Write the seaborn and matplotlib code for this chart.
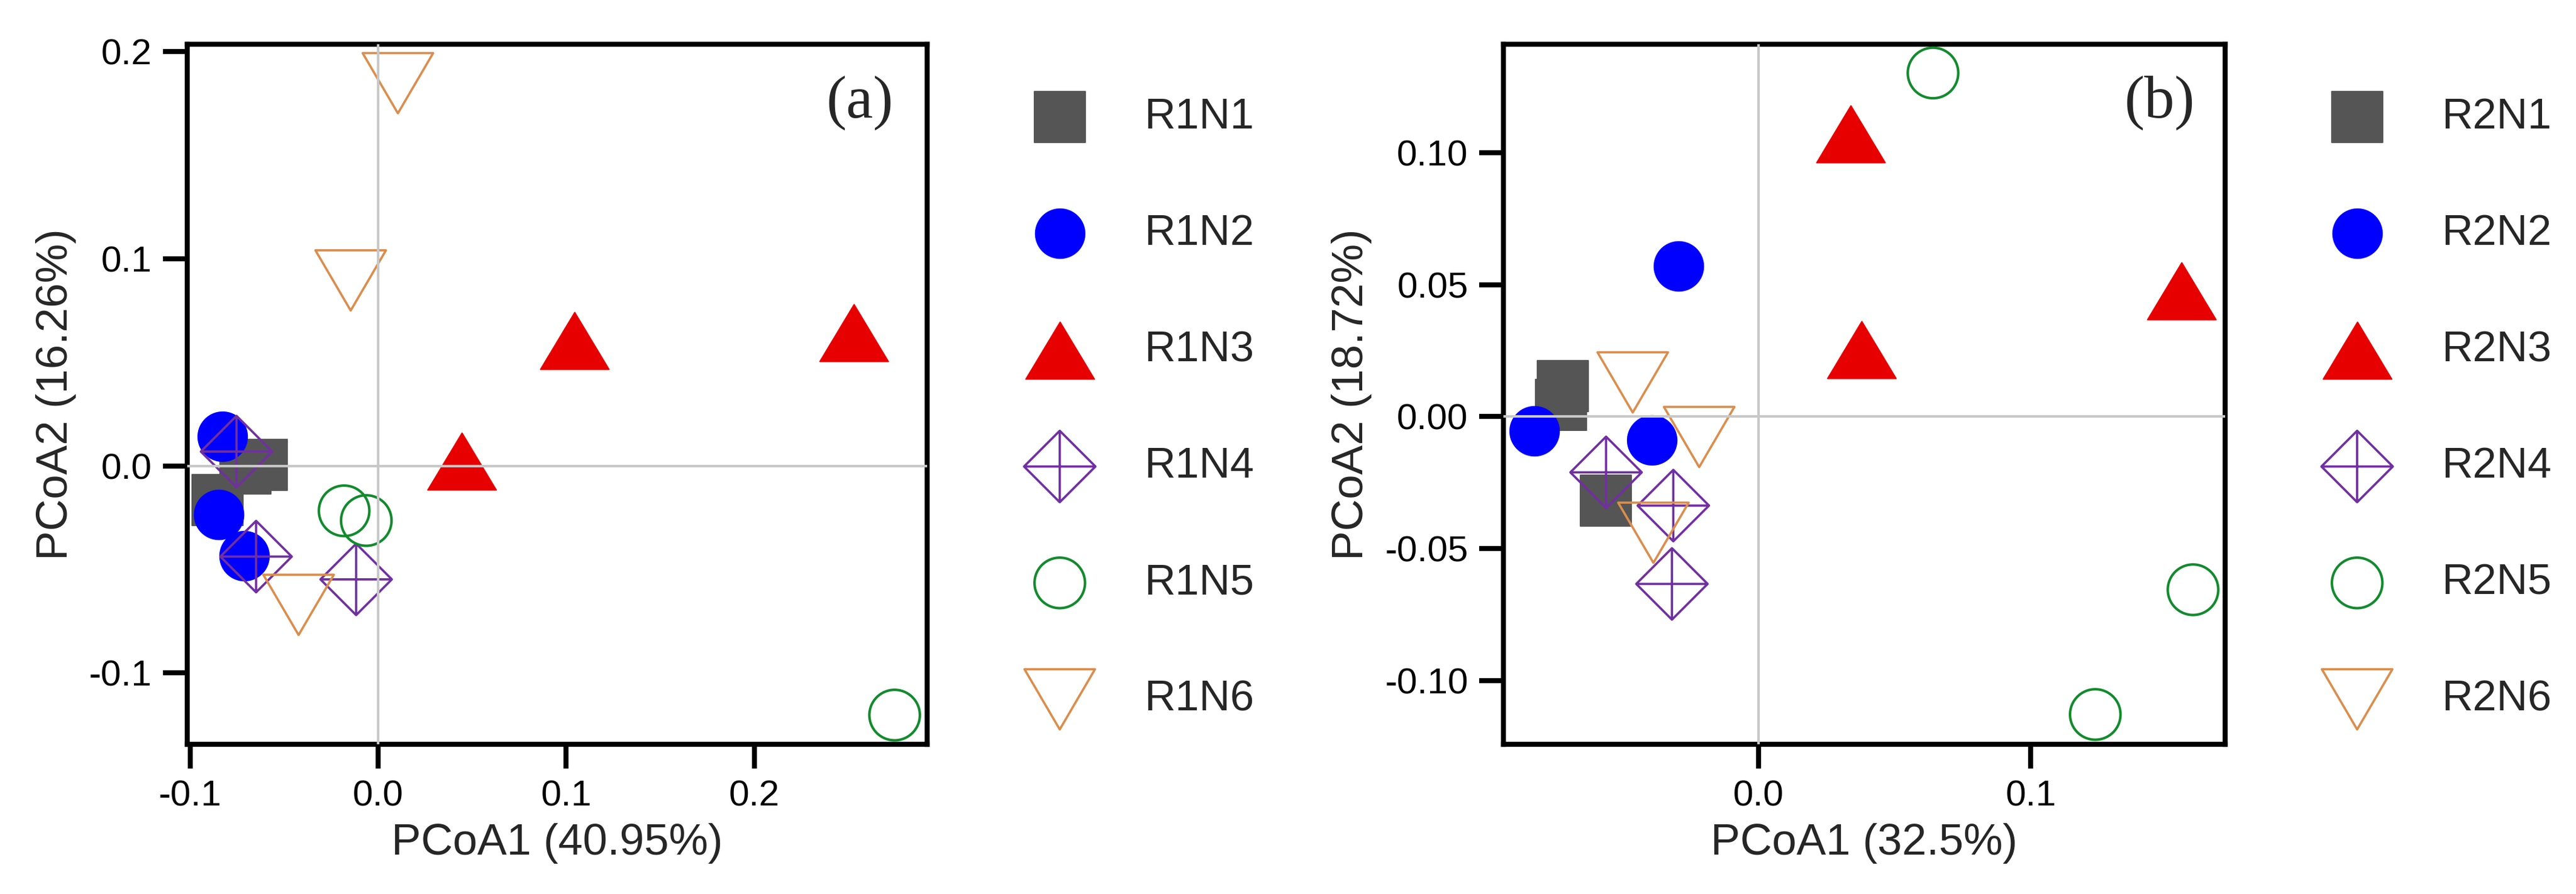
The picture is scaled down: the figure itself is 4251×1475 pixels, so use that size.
import numpy as np
import pandas as pd
import matplotlib
matplotlib.use("Agg")
import matplotlib.pyplot as plt
from matplotlib.path import Path
import seaborn as sns

# ---------------- data ----------------
groups_a = ["R1N1", "R1N2", "R1N3", "R1N4", "R1N5", "R1N6"]
groups_b = ["R2N1", "R2N2", "R2N3", "R2N4", "R2N5", "R2N6"]

a_x = {
    "R1N1": [-0.062, -0.0707, -0.0854],
    "R1N2": [-0.0827, -0.0847, -0.0711],
    "R1N3": [0.0445, 0.1045, 0.253],
    "R1N4": [-0.0753, -0.0649, -0.0117],
    "R1N5": [-0.0181, -0.0063, 0.2746],
    "R1N6": [0.0105, -0.0146, -0.0423],
}
a_y = {
    "R1N1": [0.0006, -0.0014, -0.0165],
    "R1N2": [0.0143, -0.0234, -0.0435],
    "R1N3": [0.0022, 0.0603, 0.0641],
    "R1N4": [0.0069, -0.0438, -0.0548],
    "R1N5": [-0.0217, -0.0264, -0.1203],
    "R1N6": [0.1847, 0.0895, -0.0671],
}
b_x = {
    "R2N1": [-0.0719, -0.0725, -0.056],
    "R2N2": [-0.0824, -0.0294, -0.0391],
    "R2N3": [0.0339, 0.0379, 0.1553],
    "R2N4": [-0.056, -0.0313, -0.0318],
    "R2N5": [0.0641, 0.1596, 0.1237],
    "R2N6": [-0.0462, -0.0218, -0.0386],
}
b_y = {
    "R2N1": [0.0116, 0.0044, -0.0318],
    "R2N2": [-0.0055, 0.057, -0.0088],
    "R2N3": [0.1072, 0.0254, 0.0477],
    "R2N4": [-0.0211, -0.0337, -0.0634],
    "R2N5": [0.1303, -0.0656, -0.1129],
    "R2N6": [0.013, -0.0077, -0.044],
}

xticks_a = [-0.1, 0.0, 0.1, 0.2]
yticks_a = [-0.1, 0.0, 0.1, 0.2]
xticks_b = [0.0, 0.1]
yticks_b = [-0.10, -0.05, 0.00, 0.05, 0.10]

xlabel_a, ylabel_a = "PCoA1 (40.95%)", "PCoA2 (16.26%)"
xlabel_b, ylabel_b = "PCoA1 (32.5%)", "PCoA2 (18.72%)"

# ---------------- styles ----------------
M, L, C = Path.MOVETO, Path.LINETO, Path.CLOSEPOLY
diamond_cross = Path(
    [(0, 0.5), (0.5, 0), (0, -0.5), (-0.5, 0), (0, 0.5),
     (0, 0.5), (0, -0.5), (-0.5, 0), (0.5, 0)],
    [M, L, L, L, C, M, L, M, L])
tri_up = Path([(-0.5, -0.416), (0.5, -0.416), (0, 0.416), (-0.5, -0.416)],
              [M, L, L, C])
tri_down = Path([(-0.5, 0.427), (0.5, 0.427), (0, -0.427), (-0.5, 0.427)],
                [M, L, L, C])

styles = [
    dict(marker="s", s=400, facecolor="#555555", edgecolor="#555555", linewidth=0.5),
    dict(marker="o", s=380, facecolor="#0000FF", edgecolor="#0000FF", linewidth=0.5),
    dict(marker=tri_up, s=735, facecolor="#E60000", edgecolor="#E60000", linewidth=0.5),
    dict(marker=diamond_cross, s=800, facecolor="none", edgecolor="#7030A0", linewidth=0.9),
    dict(marker="o", s=400, facecolor="none", edgecolor="#138A2E", linewidth=1.0),
    dict(marker=tri_down, s=780, facecolor="none", edgecolor="#D98E4E", linewidth=0.9),
]

sns.set_style("ticks")
plt.rcParams["font.family"] = ["Liberation Sans", "DejaVu Sans"]
plt.rcParams["axes.unicode_minus"] = False

W, H = 4251, 1475
fig = plt.figure(figsize=(W / 300, H / 300), dpi=300)

ax_a = fig.add_axes([309 / W, 1 - 1228 / H, (1530 - 309) / W, (1228 - 73) / H])
ax_b = fig.add_axes([2481 / W, 1 - 1228 / H, (3672 - 2481) / W, (1228 - 73) / H])


def draw(ax, groups, xs, ys, xlim, ylim, xt, yt, xfmt, yfmt, xl, yl, tag, leg_x):
    rows = []
    for g in groups:
        for xv, yv in zip(xs[g], ys[g]):
            rows.append((g, xv, yv))
    df = pd.DataFrame(rows, columns=["group", "x", "y"])
    for g, st in zip(groups, styles):
        sub = df[df["group"] == g]
        sns.scatterplot(data=sub, x="x", y="y", ax=ax, label=g,
                        color=st["edgecolor"], zorder=3, **st)
    ax.axvline(0, color="#C8C8C8", lw=1.0, zorder=6)
    ax.axhline(0, color="#C8C8C8", lw=1.0, zorder=6)
    ax.set_xlim(*xlim)
    ax.set_ylim(*ylim)
    ax.set_xticks(xt)
    ax.set_yticks(yt)
    ax.set_xticklabels([xfmt % v for v in xt])
    ax.set_yticklabels([yfmt % v for v in yt])
    ax.tick_params(direction="out", length=9.5, width=2, pad=4.5,
                   labelsize=14.5, color="black", labelcolor="black")
    for sp in ax.spines.values():
        sp.set_visible(True)
        sp.set_linewidth(2)
        sp.set_color("black")
    ax.set_xlabel(xl, fontsize=17.5, labelpad=4)
    ax.set_ylabel(yl, fontsize=17.5, labelpad=5)
    ax.text(0.909, 0.916, tag, transform=ax.transAxes, ha="center", va="center",
            fontsize=24, family=["Liberation Serif", "DejaVu Serif"])
    ax.legend(loc="upper left", bbox_to_anchor=(leg_x, 1 - 161 / H),
              bbox_transform=fig.transFigure, frameon=False, fontsize=17,
              borderpad=0, borderaxespad=0, handlelength=2.0,
              handletextpad=0.965, labelspacing=1.78, scatterpoints=1)


draw(ax_a, groups_a, a_x, a_y, (-0.1015, 0.2919), (-0.1344, 0.2035),
     xticks_a, yticks_a, "%.1f", "%.1f", xlabel_a, ylabel_a, "(a)", 1678 / W)
draw(ax_b, groups_b, b_x, b_y, (-0.0937, 0.1714), (-0.1242, 0.1412),
     xticks_b, yticks_b, "%.1f", "%.2f", xlabel_b, ylabel_b, "(b)", 3819 / W)

fig.savefig("out.png", dpi=300, facecolor="white")
